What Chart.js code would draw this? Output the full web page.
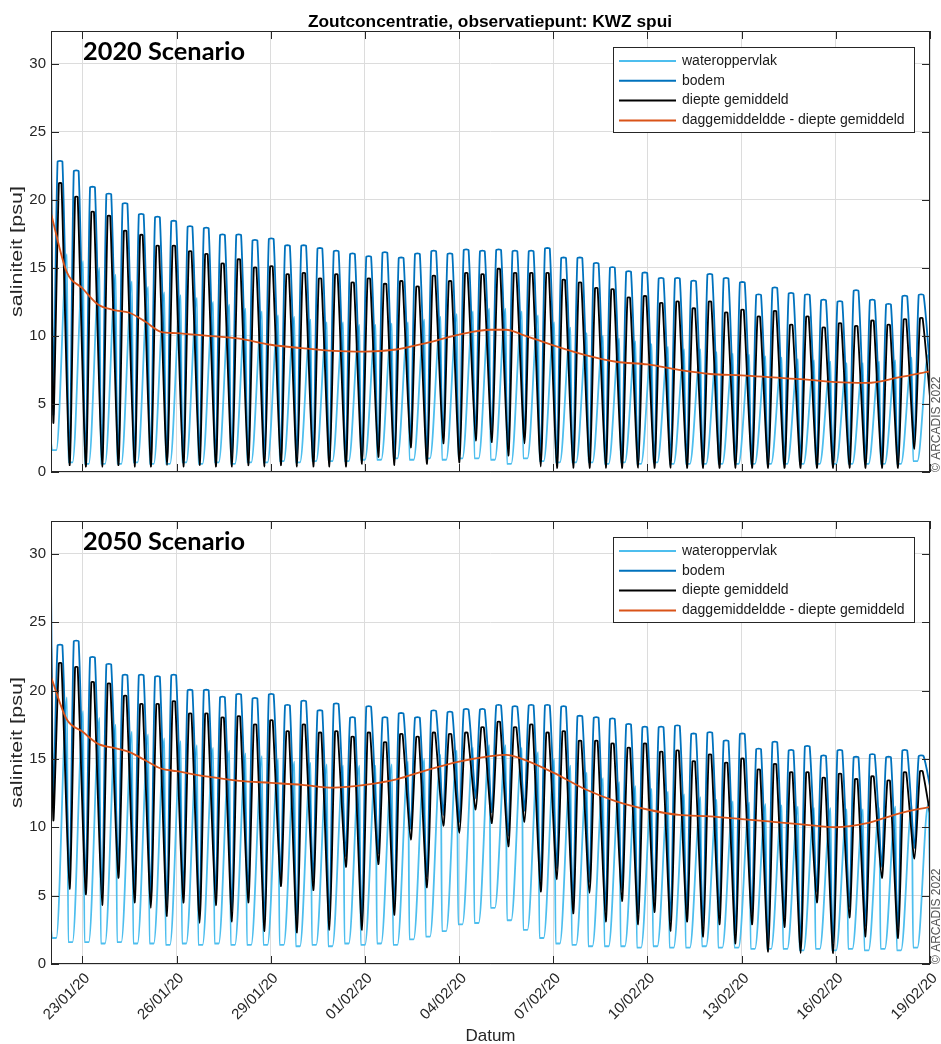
<!DOCTYPE html>
<html>
<head>
<meta charset="utf-8">
<script src="https://cdn.jsdelivr.net/npm/chart.js@4.4.1/dist/chart.umd.min.js"></script>
<style>
  html, body { margin: 0; padding: 0; background: #ffffff; }
  #wrap { position: relative; width: 941px; height: 1044px; overflow: hidden; }
  canvas { position: absolute; left: 0; }
</style>
</head>
<body>
<div id="wrap">
  <canvas id="c2020" width="941" height="490" style="top:0px"></canvas>
  <canvas id="c2050" width="941" height="554" style="top:490px"></canvas>
</div>
<script>
// ---- time base: hours since 22/01/2020 00:00 ----
const END_HOUR = 672;
const tickHours = [24, 96, 168, 240, 312, 384, 456, 528, 600, 672];
const tickLabels = ['23/01/20', '26/01/20', '29/01/20', '01/02/20', '04/02/20',
                    '07/02/20', '10/02/20', '13/02/20', '16/02/20', '19/02/20'];
const yTicks = [0, 5, 10, 15, 20, 25, 30];

// low-water moments of the depth-averaged salinity (hours)
const troughHours = [
  1.8, 14.2, 26.6, 39.1, 51.5, 63.9, 76.3, 88.7, 101.2, 113.6,
  126.0, 138.4, 150.8, 163.3, 175.7, 188.1, 200.5, 212.9, 225.4, 237.8,
  250.2, 262.6, 275.0, 287.5, 299.9, 312.3, 324.7, 337.1, 349.6, 362.0,
  374.4, 386.8, 399.2, 411.7, 424.1, 436.5, 448.9, 461.3, 473.8, 486.2,
  498.6, 511.0, 523.4, 535.9, 548.3, 560.7, 573.1, 585.5, 598.0, 610.4,
  622.8, 635.2, 647.6, 660.1];

// ---- 2020 scenario: per tide, the minimum (at low water) and maximum [psu] ----
const bodemHigh2020 = [
  22.8, 22.1, 20.9, 20.4, 19.7, 18.9, 18.7, 18.4, 18.0, 17.9,
  17.4, 17.4, 17.0, 17.1, 16.6, 16.6, 16.4, 16.2, 16.0, 15.8,
  16.1, 15.7, 16.0, 16.2, 16.0, 16.3, 16.2, 16.3, 16.2, 16.2,
  16.4, 15.7, 15.7, 15.3, 15.0, 14.7, 14.6, 14.2, 14.2, 14.0,
  14.5, 14.2, 13.9, 13.0, 13.5, 13.1, 13.0, 12.6, 12.5, 13.3,
  12.6, 12.3, 12.9, 13.0];
const bodemLow2020 = [
  4.2, 1.0, 0.9, 0.9, 1.0, 0.9, 0.9, 1.0, 0.9, 1.0,
  0.9, 0.9, 1.0, 0.9, 1.0, 0.9, 0.9, 0.9, 0.9, 1.1,
  1.6, 1.0, 2.3, 1.1, 2.6, 1.2, 2.8, 2.7, 1.7, 2.6,
  0.9, 0.8, 0.8, 0.8, 0.8, 0.8, 0.8, 0.8, 0.8, 0.8,
  0.8, 0.8, 0.8, 0.8, 0.8, 0.8, 0.8, 0.8, 0.8, 0.8,
  0.8, 0.8, 0.8, 2.2];
const diepteHigh2020 = [
  21.2, 20.2, 19.1, 18.8, 17.7, 17.4, 16.6, 16.6, 16.2, 16.0,
  15.3, 15.6, 15.0, 15.1, 14.5, 14.6, 14.2, 14.5, 13.9, 14.2,
  13.8, 14.0, 13.6, 14.4, 14.0, 14.6, 14.5, 14.9, 14.6, 14.6,
  14.6, 14.1, 13.9, 13.5, 13.4, 12.8, 12.9, 12.4, 12.5, 12.0,
  12.5, 11.7, 11.9, 11.4, 11.8, 10.8, 11.4, 10.6, 10.9, 10.7,
  11.1, 10.8, 11.2, 11.3];
const diepteLow2020 = [
  3.6, 0.5, 0.4, 0.4, 0.5, 0.4, 0.4, 0.5, 0.4, 0.5,
  0.4, 0.4, 0.5, 0.4, 0.5, 0.4, 0.4, 0.4, 0.4, 0.6,
  1.1, 0.5, 1.8, 0.6, 2.1, 0.7, 2.3, 2.2, 1.2, 2.1,
  0.4, 0.3, 0.3, 0.3, 0.3, 0.3, 0.3, 0.3, 0.3, 0.3,
  0.3, 0.3, 0.3, 0.3, 0.3, 0.3, 0.3, 0.3, 0.3, 0.3,
  0.3, 0.3, 0.3, 1.7];
const surfHigh2020 = [
  16.0, 15.5, 15.0, 14.5, 14.0, 13.6, 13.2, 13.0, 12.8, 12.5,
  12.3, 12.0, 11.8, 11.5, 11.4, 11.2, 11.0, 11.0, 10.8, 10.8,
  10.9, 11.0, 11.2, 11.4, 11.6, 11.8, 12.0, 12.0, 11.8, 11.5,
  11.0, 10.6, 10.2, 10.0, 9.8, 9.6, 9.4, 9.2, 9.0, 9.0,
  8.8, 8.7, 8.6, 8.5, 8.4, 8.3, 8.2, 8.1, 8.0, 8.0,
  8.1, 8.2, 8.4, 8.6];
const surfLow2020 = [
  1.6, 0.7, 0.6, 0.6, 0.6, 0.7, 0.6, 0.6, 0.7, 0.6,
  0.7, 0.6, 0.7, 0.7, 0.8, 0.7, 0.8, 0.8, 0.8, 0.9,
  0.9, 1.0, 0.9, 1.0, 0.9, 1.0, 1.0, 0.9, 0.6, 1.0,
  0.8, 0.7, 0.7, 0.7, 0.6, 0.7, 0.6, 0.7, 0.6, 0.6,
  0.6, 0.6, 0.6, 0.6, 0.6, 0.6, 0.6, 0.6, 0.6, 0.6,
  0.6, 0.6, 0.6, 0.8];
// values at the first and last moment of the record
const start2020 = { bodem: 25.7, diepte: 22.6, surf: 2.2 };
const end2020 = { bodem: 7.5, diepte: 5.5, surf: 7.6 };
const dayMeanHours = [0, 12, 24, 36, 48, 60, 72, 84, 96, 120, 144, 168, 192, 216, 240,
                      264, 288, 312, 336, 348, 360, 384, 408, 432, 456, 480, 504, 528,
                      552, 576, 600, 624, 648, 672];
const dayMean2020 = [19.0, 14.7, 13.5, 12.3, 11.9, 11.7, 11.05, 10.3, 10.2, 10.0, 9.8, 9.35,
                     9.1, 8.9, 8.85, 9.0, 9.5, 10.1, 10.45, 10.45, 10.1, 9.3, 8.6, 8.1,
                     7.9, 7.5, 7.2, 7.1, 6.95, 6.8, 6.6, 6.55, 6.95, 7.4];

// ---- 2050 scenario ----
const bodemHigh2050 = [
  23.3, 23.6, 22.4, 21.9, 21.1, 21.1, 21.0, 21.1, 20.0, 20.0,
  19.5, 19.7, 19.4, 19.7, 18.9, 19.2, 18.5, 19.0, 18.0, 18.8,
  18.0, 18.3, 18.0, 18.5, 18.4, 18.6, 18.6, 18.9, 18.8, 18.9,
  18.9, 18.8, 18.1, 18.0, 17.9, 17.5, 17.3, 17.3, 17.4, 16.8,
  16.9, 16.3, 16.8, 15.7, 16.2, 15.6, 15.9, 15.2, 15.6, 15.1,
  15.3, 15.1, 15.6, 15.2];
const bodemLow2050 = [
  11.5, 6.3, 5.9, 5.1, 7.1, 5.3, 4.9, 4.3, 5.3, 3.8,
  5.1, 3.9, 5.3, 3.2, 6.5, 3.1, 6.2, 3.3, 7.9, 3.3,
  8.1, 4.4, 9.9, 6.4, 10.9, 10.4, 12.1, 11.1, 9.4, 11.2,
  6.1, 7.0, 4.5, 6.0, 3.9, 5.4, 3.7, 4.6, 3.2, 3.9,
  2.8, 3.7, 2.3, 3.7, 1.7, 3.5, 1.6, 5.3, 1.6, 4.2,
  2.8, 7.1, 2.7, 8.5];
const diepteHigh2050 = [
  22.0, 21.7, 20.6, 20.5, 19.6, 19.0, 19.0, 19.2, 18.3, 18.3,
  18.0, 18.1, 17.5, 17.8, 17.0, 17.5, 16.9, 17.0, 16.6, 16.9,
  16.2, 16.8, 16.6, 16.9, 16.8, 16.9, 17.3, 17.7, 17.3, 17.5,
  16.9, 17.0, 16.3, 16.3, 16.1, 15.8, 16.1, 15.5, 15.6, 14.8,
  15.3, 14.7, 15.0, 14.2, 14.6, 14.0, 14.0, 13.6, 13.9, 13.5,
  13.7, 13.4, 14.0, 14.1];
const diepteLow2050 = [
  10.5, 5.5, 5.1, 4.3, 6.3, 4.5, 4.1, 3.5, 4.5, 3.0,
  4.3, 3.1, 4.5, 2.4, 5.7, 2.3, 5.4, 2.5, 7.1, 2.5,
  7.3, 3.6, 9.1, 5.6, 10.1, 9.6, 11.3, 10.3, 8.6, 10.4,
  5.3, 6.2, 3.7, 5.2, 3.1, 4.6, 2.9, 3.8, 2.4, 3.1,
  2.0, 2.9, 1.5, 2.9, 0.9, 2.7, 0.8, 4.5, 0.8, 3.4,
  2.0, 6.3, 1.9, 7.7];
const surfHigh2050 = [
  19.5, 18.5, 18.0, 17.5, 17.0, 16.8, 16.5, 16.3, 16.0, 15.8,
  15.6, 15.4, 15.2, 15.0, 14.8, 14.7, 14.6, 14.5, 14.5, 14.5,
  14.6, 14.8, 15.0, 15.3, 15.6, 15.8, 16.0, 16.0, 15.8, 15.5,
  15.0, 14.5, 14.0, 13.6, 13.3, 13.0, 12.8, 12.6, 12.4, 12.2,
  12.0, 11.9, 11.8, 11.7, 11.6, 11.5, 11.4, 11.4, 11.3, 11.3,
  11.4, 11.5, 11.6, 11.7];
const surfLow2050 = [
  1.9, 1.6, 1.6, 1.5, 1.6, 1.5, 1.5, 1.4, 1.5, 1.4,
  1.5, 1.4, 1.4, 1.4, 1.4, 1.3, 1.4, 1.3, 1.5, 1.4,
  1.5, 1.4, 1.8, 2.0, 2.4, 2.9, 3.0, 4.1, 3.2, 2.5,
  1.9, 1.5, 1.4, 1.3, 1.3, 1.3, 1.2, 1.3, 1.2, 1.2,
  1.3, 1.2, 1.2, 1.1, 1.1, 1.1, 1.0, 1.1, 1.0, 1.1,
  1.0, 1.1, 1.0, 1.2];
const start2050 = { bodem: 27.9, diepte: 24.0, surf: 2.6 };
const end2050 = { bodem: 13.0, diepte: 11.0, surf: 6.0 };
const dayMean2050 = [21.0, 17.9, 17.0, 16.1, 15.8, 15.5, 14.9, 14.3, 14.1, 13.7, 13.4, 13.25,
                     13.1, 12.9, 13.1, 13.5, 14.2, 14.8, 15.2, 15.3, 15.0, 14.0, 12.8, 11.9,
                     11.3, 10.9, 10.8, 10.6, 10.4, 10.2, 10.0, 10.3, 11.0, 11.5];

// ---- colours ----
const COL_SURF = '#4DBEEE', COL_BODEM = '#0072BD', COL_DIEPTE = '#000000', COL_DAY = '#D95319';
const AXIS_COL = '#262626';
const legendItems = [
  ['wateroppervlak', COL_SURF],
  ['bodem', COL_BODEM],
  ['diepte gemiddeld', COL_DIEPTE],
  ['daggemiddeldde - diepte gemiddeld', COL_DAY]
];

// shape of one tide for each layer: [fraction of the tide after low water, which value]
const SHAPE_DIEPTE = [[0, 'low'], [0.34, 'high'], [0.50, 'high']];
const SHAPE_BODEM  = [[0, 'low'], [0.26, 'high'], [0.56, 'high']];
const SHAPE_SURF   = [[-0.08, 'low'], [0.18, 'low'], [0.84, 'high']];

function tidal(lows, highs, shape, first, last) {
  const pts = [{ x: 0, y: first }];
  for (let k = 0; k < troughHours.length; k++) {
    const t = troughHours[k];
    const span = k + 1 < troughHours.length ? troughHours[k + 1] - t : t - troughHours[k - 1];
    for (const [phase, key] of shape) {
      const x = t + phase * span;
      if (x <= 0 || x >= END_HOUR) continue;
      pts.push({ x: x, y: key === 'low' ? lows[k] : highs[k] });
    }
  }
  pts.push({ x: END_HOUR, y: last });
  return pts;
}

function fitText(ctx, text, x, y, width, align) {
  const w = ctx.measureText(text).width;
  const s = width / w;
  ctx.save();
  ctx.translate(x, y);
  ctx.scale(s, 1);
  ctx.textAlign = align;
  ctx.fillText(text, 0, 0);
  ctx.restore();
}

const framePlugin = {
  id: 'frame',
  afterDraw(chart, args, opts) {
    const ctx = chart.ctx;
    const a = chart.chartArea;
    const xs = chart.scales.x, ys = chart.scales.y;
    ctx.save();
    // axes box with inward ticks
    ctx.strokeStyle = AXIS_COL;
    ctx.lineWidth = 1;
    ctx.strokeRect(a.left + 0.5, a.top + 0.5, a.right - a.left - 1, a.bottom - a.top - 1);
    ctx.beginPath();
    tickHours.forEach(h => {
      const px = Math.round(xs.getPixelForValue(h)) + 0.5;
      ctx.moveTo(px, a.bottom); ctx.lineTo(px, a.bottom - 8);
      ctx.moveTo(px, a.top); ctx.lineTo(px, a.top + 8);
    });
    yTicks.forEach(v => {
      const py = Math.round(ys.getPixelForValue(v)) + 0.5;
      ctx.moveTo(a.left, py); ctx.lineTo(a.left + 8, py);
      ctx.moveTo(a.right, py); ctx.lineTo(a.right - 8, py);
    });
    ctx.stroke();

    // legend
    const lx = a.right - 317, ly = a.top + 16, lw = 301, lh = 85;
    ctx.fillStyle = '#ffffff';
    ctx.fillRect(lx, ly, lw, lh);
    ctx.strokeStyle = AXIS_COL;
    ctx.strokeRect(lx + 0.5, ly + 0.5, lw, lh);
    ctx.font = '14px "Liberation Sans", Arial, sans-serif';
    ctx.textBaseline = 'middle';
    legendItems.forEach(([name, col], i) => {
      const yy = ly + 14 + i * 19.8;
      ctx.strokeStyle = col;
      ctx.lineWidth = 2;
      ctx.beginPath();
      ctx.moveTo(lx + 6, yy); ctx.lineTo(lx + 63, yy);
      ctx.stroke();
      ctx.fillStyle = '#1a1a1a';
      ctx.textAlign = 'left';
      ctx.fillText(name, lx + 69, yy);
    });

    // scenario label
    ctx.fillStyle = '#000000';
    ctx.font = 'bold 25px Lato, "Open Sans", sans-serif';
    ctx.textBaseline = 'alphabetic';
    fitText(ctx, opts.scenario, a.left + 32, a.top + 29, 162, 'left');

    // y-axis title
    ctx.fillStyle = AXIS_COL;
    ctx.font = '17px "Liberation Sans", Arial, sans-serif';
    ctx.save();
    ctx.translate(17, (a.top + a.bottom) / 2);
    ctx.rotate(-Math.PI / 2);
    ctx.textBaseline = 'middle';
    fitText(ctx, 'saliniteit [psu]', 0, 0, 131, 'center');
    ctx.restore();

    // copyright
    ctx.fillStyle = '#555555';
    ctx.font = '12px "Liberation Sans", Arial, sans-serif';
    ctx.save();
    ctx.translate(937, a.bottom);
    ctx.rotate(-Math.PI / 2);
    ctx.textBaseline = 'middle';
    ctx.textAlign = 'left';
    ctx.fillText('\u00A9 ARCADIS 2022', 0, 0);
    ctx.restore();

    if (opts.title) {
      ctx.fillStyle = '#000000';
      ctx.font = 'bold 16px "Liberation Sans", Arial, sans-serif';
      ctx.textBaseline = 'alphabetic';
      fitText(ctx, opts.title, 490, 27, 364, 'center');
    }
    if (opts.dates) {
      ctx.fillStyle = AXIS_COL;
      ctx.font = '15px "Liberation Sans", Arial, sans-serif';
      tickHours.forEach((h, i) => {
        const px = xs.getPixelForValue(h);
        ctx.save();
        ctx.translate(px + 5, a.bottom + 12);
        ctx.rotate(-Math.PI / 4);
        ctx.textAlign = 'right';
        ctx.textBaseline = 'middle';
        ctx.fillText(tickLabels[i], 0, 0);
        ctx.restore();
      });
      ctx.font = '17px "Liberation Sans", Arial, sans-serif';
      ctx.textAlign = 'center';
      ctx.textBaseline = 'alphabetic';
      ctx.fillText('Datum', (a.left + a.right) / 2, a.bottom + 77);
    }
    ctx.restore();
  }
};

function makeChart(id, d, opts, xAxisHeight) {
  const line = (label, data, color, smooth) => Object.assign({
    label, data, borderColor: color, backgroundColor: color,
    borderWidth: 1.8, pointRadius: 0, fill: false
  }, smooth);
  const sharp = { tension: 0.22, cubicInterpolationMode: 'default' };
  const flat = { cubicInterpolationMode: 'monotone' };
  return new Chart(document.getElementById(id), {
    type: 'line',
    data: {
      datasets: [
        line('daggemiddeldde - diepte gemiddeld', dayMeanHours.map((h, i) => ({ x: h, y: d.day[i] })), COL_DAY, flat),
        line('diepte gemiddeld', tidal(d.dLow, d.dHigh, SHAPE_DIEPTE, d.start.diepte, d.end.diepte), COL_DIEPTE, sharp),
        line('bodem', tidal(d.bLow, d.bHigh, SHAPE_BODEM, d.start.bodem, d.end.bodem), COL_BODEM, sharp),
        line('wateroppervlak', tidal(d.sLow, d.sHigh, SHAPE_SURF, d.start.surf, d.end.surf), COL_SURF, flat)
      ]
    },
    options: {
      responsive: false,
      animation: false,
      devicePixelRatio: 1,
      events: [],
      layout: { padding: { left: 0, right: 11, top: 31, bottom: 0 } },
      plugins: { legend: { display: false }, tooltip: { enabled: false }, frame: opts },
      scales: {
        x: {
          type: 'linear', min: 0, max: END_HOUR,
          afterBuildTicks: s => { s.ticks = tickHours.map(v => ({ value: v })); },
          afterFit: s => { s.height = xAxisHeight; },
          ticks: { display: false },
          grid: { color: '#dcdcdc', drawTicks: false },
          border: { display: false }
        },
        y: {
          type: 'linear', min: 0, max: 32.4,
          afterBuildTicks: s => { s.ticks = yTicks.map(v => ({ value: v })); },
          afterFit: s => { s.width = 51; },
          ticks: { padding: 5, color: AXIS_COL, font: { family: '"Liberation Sans", Arial, sans-serif', size: 15 } },
          grid: { color: '#dcdcdc', drawTicks: false },
          border: { display: false }
        }
      }
    },
    plugins: [framePlugin]
  });
}

makeChart('c2020', {
  day: dayMean2020, dLow: diepteLow2020, dHigh: diepteHigh2020,
  bLow: bodemLow2020, bHigh: bodemHigh2020, sLow: surfLow2020, sHigh: surfHigh2020,
  start: start2020, end: end2020
}, { scenario: '2020 Scenario', title: 'Zoutconcentratie, observatiepunt: KWZ spui', dates: false }, 18);

makeChart('c2050', {
  day: dayMean2050, dLow: diepteLow2050, dHigh: diepteHigh2050,
  bLow: bodemLow2050, bHigh: bodemHigh2050, sLow: surfLow2050, sHigh: surfHigh2050,
  start: start2050, end: end2050
}, { scenario: '2050 Scenario', title: null, dates: true }, 80);
</script>
</body>
</html>
